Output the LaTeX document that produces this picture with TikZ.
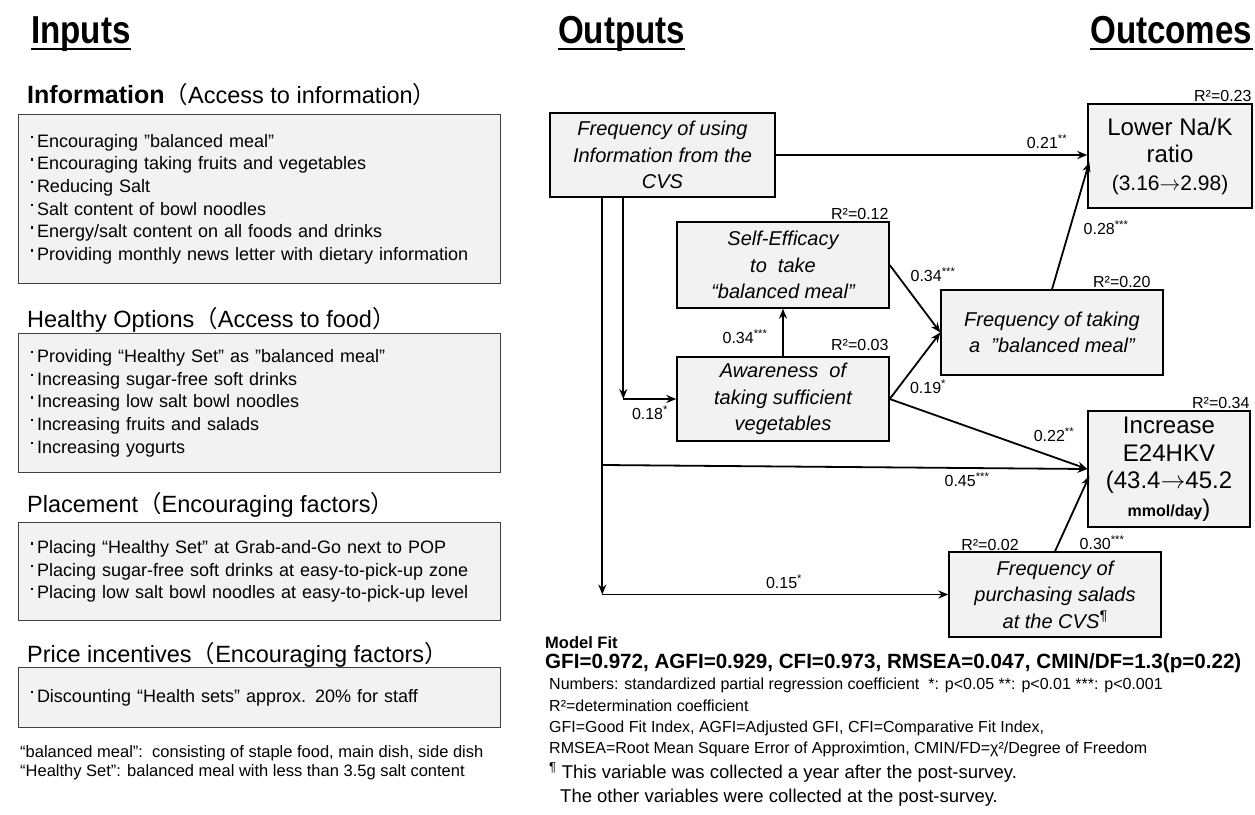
\documentclass[tikz,border=0pt]{standalone}
\usepackage{graphicx}
\usepackage{fontspec}
\setmainfont{Liberation Sans}
\newfontfamily\jpfont{Noto Sans CJK JP}
\usetikzlibrary{arrows.meta,positioning,calc}

\newcommand{\itm}{\rule[0.5em]{2.4pt}{2.4pt}\hspace{4pt}}
\newcommand{\lp}{{\jpfont （}}
\newcommand{\rp}{{\jpfont ）}}
\newcommand{\nar}[1]{\scalebox{0.85}[1]{#1}}
\newcommand{\sig}[1]{\textsuperscript{#1}}
\newcommand{\ra}{\ensuremath{\rightarrow}}

\begin{document}
\begin{tikzpicture}[
    x=1pt, y=-1pt,
    heading/.style={anchor=base west, inner sep=0pt, text depth=6pt, font=\fontsize{39}{40}\bfseries},
    grouptitle/.style={anchor=base west, inner sep=0pt, font=\fontsize{23.5}{25}\selectfont},
    listbox/.style={draw=black!75, fill=black!5, line width=1.2pt, anchor=north west, text width=458pt, inner xsep=12pt, inner ysep=0pt, align=left, font=\fontsize{18}{22.7}\selectfont},
    var/.style={draw, line width=1.4pt, fill=black!5, align=center, inner sep=0pt, font=\fontsize{20}{26.5}\selectfont\itshape},
    outc/.style={var, font=\fontsize{24}{27.5}\selectfont},
    rsq/.style={inner sep=1pt, font=\fontsize{16}{18}\selectfont},
    coef/.style={inner sep=0pt, font=\fontsize{16}{18}\selectfont},
    note/.style={anchor=base west, inner sep=0pt, font=\fontsize{16}{18}\selectfont},
    arrow/.style={-{Stealth[length=10pt,width=8pt]}, line width=1.8pt}
]
\useasboundingbox (0,0) rectangle (1255,814);

% Headings
\node[heading] (hin) at (31,43) {\nar{Inputs}};
\node[heading] (hout) at (558,43) {\nar{Outputs}};
\node[heading] (hoc) at (1090,43) {\nar{Outcomes}};
\draw[line width=2.2pt] (hin.south west) -- (hin.south east);
\draw[line width=2.2pt] (hout.south west) -- (hout.south east);
\draw[line width=2.2pt] (hoc.south west) -- (hoc.south east);

% Inputs
\node[grouptitle] (tinfo) at (27,103) {{\fontsize{25}{25}\bfseries Information}\lp Access to information\rp};
\node[listbox, minimum height=169pt] (infobox) at (18,114) {%
  \itm Encouraging ”balanced meal”\\
  \itm Encouraging taking fruits and vegetables\\
  \itm Reducing Salt\\
  \itm Salt content of bowl noodles\\
  \itm Energy/salt content on all foods and drinks\\
  \itm Providing monthly news letter with dietary information};

\node[grouptitle] (topt) at (27,327) {Healthy Options\lp Access to food\rp};
\node[listbox, minimum height=139pt] (optbox) at (18,333) {%
  \itm Providing “Healthy Set” as ”balanced meal”\\
  \itm Increasing sugar-free soft drinks\\
  \itm Increasing low salt bowl noodles\\
  \itm Increasing fruits and salads\\
  \itm Increasing yogurts};

\node[grouptitle] (tplace) at (27,512) {Placement\lp Encouraging factors\rp};
\node[listbox, minimum height=98pt] (placebox) at (18,522) {%
  \itm Placing “Healthy Set” at Grab-and-Go next to POP\\
  \itm Placing sugar-free soft drinks at easy-to-pick-up zone\\
  \itm Placing low salt bowl noodles at easy-to-pick-up level};

\node[grouptitle] (tprice) at (27,662) {Price incentives\lp Encouraging factors\rp};
\node[listbox, minimum height=60pt] (pricebox) at (18,667) {%
  \itm Discounting “Health sets” approx. 20\% for staff};

\node[note, font=\fontsize{16.5}{18}\selectfont] (fn1) at (20,757) {“balanced meal”:\ \ consisting of staple food, main dish, side dish};
\node[note, font=\fontsize{16.5}{18}\selectfont] (fn2) at (20,776) {“Healthy Set”: balanced meal with less than 3.5g salt content};

% Path model
\node[var, minimum width=225pt, minimum height=84pt] (useinfo) at (662.5,155) {Frequency of using\\Information from the\\CVS};
\node[outc, minimum width=164pt, minimum height=104pt] (nak) at (1170,156) {Lower Na/K\\ratio\\{\fontsize{21}{26}\selectfont(3.16\ra 2.98)}};
\node[var, minimum width=212pt, minimum height=86pt] (selfeff) at (783,265) {Self-Efficacy\\to\ \ take\\“balanced meal”};
\node[var, minimum width=212pt, minimum height=84pt] (aware) at (783,399) {Awareness\ \ of\\taking sufficient\\vegetables};
\node[var, minimum width=222pt, minimum height=85pt] (freqbm) at (1052,332.5) {Frequency of taking\\a\ \ ”balanced meal”};
\node[outc, minimum width=162pt, minimum height=116pt] (hkv) at (1169,469) {Increase\\E24HKV\\(43.4\ra 45.2\\{\fontsize{16}{20}\selectfont\bfseries mmol/day})};
\node[var, minimum width=212pt, minimum height=85pt] (salad) at (1055,594.5) {Frequency of\\purchasing salads\\at the CVS\sig{¶}};

% R squared
\node[rsq, anchor=south east] (r2nak) at (nak.north east) {R²=0.23};
\node[rsq, anchor=south east] (r2se) at (selfeff.north east) {R²=0.12};
\node[rsq, anchor=south east] (r2bm) at ([xshift=-12pt]freqbm.north east) {R²=0.20};
\node[rsq, anchor=south east] (r2aw) at ([yshift=4pt]aware.north east) {R²=0.03};
\node[rsq, anchor=south east] (r2hkv) at (hkv.north east) {R²=0.34};
\node[rsq, anchor=south] (r2sal) at (990,552) {R²=0.02};

% Coefficients
\node[coef] (b21) at (1047,142) {0.21\sig{**}};
\node[coef] (b28) at (1106,228) {0.28\sig{***}};
\node[coef] (b34a) at (933,275) {0.34\sig{***}};
\node[coef] (b34b) at (745,337) {0.34\sig{***}};
\node[coef] (b19) at (928,387) {0.19\sig{*}};
\node[coef] (b18) at (650,413) {0.18\sig{*}};
\node[coef] (b22) at (1054,435) {0.22\sig{**}};
\node[coef] (b45) at (967,480) {0.45\sig{***}};
\node[coef] (b30) at (1102,543) {0.30\sig{***}};
\node[coef] (b15) at (784,582) {0.15\sig{*}};

% Arrows
\coordinate (drop1) at ([xshift=53pt]useinfo.south west);
\coordinate (drop2) at ([xshift=74pt]useinfo.south west);
\draw[arrow] (useinfo.east) -- (useinfo.east -| nak.west);
\draw[arrow] (freqbm.north) -- ($(nak.west)+(2,6)$);
\draw[arrow] (selfeff.east) -- (freqbm.west);
\draw[arrow] (aware.east) -- (freqbm.west);
\draw[arrow] (aware.north) -- (selfeff.south);
\draw[arrow] (aware.east) -- (hkv.west);
\draw[arrow] (drop2) -- (drop2 |- aware.west);
\draw[arrow] (drop2 |- aware.west) -- (aware.west);
\draw[arrow] (drop1) -- (drop1 |- salad.west);
\draw[arrow] (drop1 |- salad.west) -- (salad.west);
\draw[arrow] (drop1 |- 0,465) -- (hkv.west);
\draw[arrow] (salad.north) -- ($(hkv.west)+(2,7)$);

% Notes
\node[note, font=\fontsize{16.5}{18}\selectfont\bfseries] (fithead) at (545,648) {Model Fit};
\node[note, font=\fontsize{20.6}{22}\selectfont\bfseries] (fitvals) at (545,668) {GFI=0.972, AGFI=0.929, CFI=0.973, RMSEA=0.047, CMIN/DF=1.3(p=0.22)};
\node[note] (n1) at (549,689) {Numbers: standardized partial regression coefficient \ *: p<0.05 **: p<0.01 ***: p<0.001};
\node[note] (n2) at (549,711) {R²=determination coefficient};
\node[note] (n3) at (549,732) {GFI=Good Fit Index, AGFI=Adjusted GFI, CFI=Comparative Fit Index,};
\node[note] (n4) at (549,753) {RMSEA=Root Mean Square Error of Approximtion, CMIN/FD=χ²/Degree of Freedom};
\node[note, font=\fontsize{18.5}{20}\selectfont] (n5) at (549,778) {\sig{¶} This variable was collected a year after the post-survey.};
\node[note, font=\fontsize{18.5}{20}\selectfont] (n6) at (560,802) {The other variables were collected at the post-survey.};

\end{tikzpicture}
\end{document}
